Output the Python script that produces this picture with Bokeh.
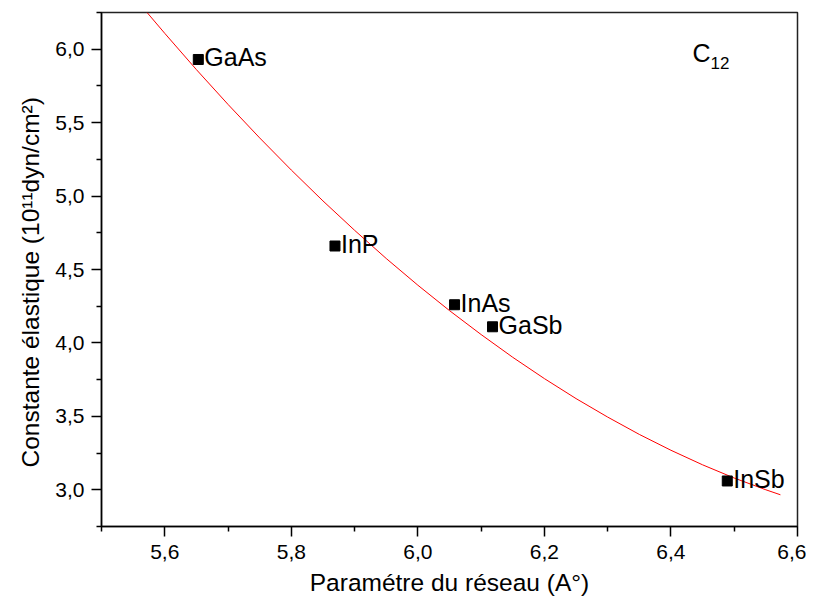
from bokeh.plotting import figure
from bokeh.models import Range1d, FixedTicker, CustomJSTickFormatter, ColumnDataSource, Title
from bokeh.core.properties import value
from bokeh.embed import file_html
from bokeh.resources import INLINE

# ---- data ----
compounds = ["GaAs", "InP", "InAs", "GaSb", "InSb"]
lattice_a = [5.653, 5.869, 6.058, 6.118, 6.489]
c12_vals = [5.93, 4.66, 4.26, 4.11, 3.06]

# red fit curve
curve_x = [5.572, 5.60, 5.65, 5.70, 5.75, 5.80, 5.85, 5.90, 5.95, 6.00, 6.05,
           6.10, 6.15, 6.20, 6.25, 6.30, 6.35, 6.40, 6.45, 6.50, 6.55, 6.573]
curve_y = [6.250, 6.108, 5.861, 5.624, 5.396, 5.177, 4.967, 4.767, 4.575, 4.393, 4.220,
           4.057, 3.902, 3.757, 3.621, 3.495, 3.377, 3.269, 3.170, 3.080, 3.000, 2.966]

x_major = [5.6, 5.8, 6.0, 6.2, 6.4, 6.6]
x_minor = [5.5, 5.7, 5.9, 6.1, 6.3, 6.5]
y_major = [3.0, 3.5, 4.0, 4.5, 5.0, 5.5, 6.0]
y_minor = [2.75, 3.25, 3.75, 4.25, 4.75, 5.25, 5.75, 6.25]

x_title = "Paramétre du réseau (A°)"
y_title = "Constante élastique (10¹¹dyn/cm²)"
panel_main = "C"
panel_sub = "12"
panel_x = 6.434
panel_y = 5.905

FONT = "Liberation Sans"

p = figure(frame_width=696, frame_height=514, output_backend="svg", toolbar_location=None,
           x_range=Range1d(5.5, 6.6), y_range=Range1d(2.75, 6.25),
           min_border_left=101, min_border_right=9, min_border_top=12, min_border_bottom=70)

p.background_fill_color = "white"
p.border_fill_color = "white"
p.outline_line_color = "#222222"
p.outline_line_width = 1.5
p.xgrid.visible = False
p.ygrid.visible = False

fmt = CustomJSTickFormatter(code="return tick.toFixed(1).replace('.', ',');")
p.xaxis.ticker = FixedTicker(ticks=x_major, minor_ticks=x_minor)
p.yaxis.ticker = FixedTicker(ticks=y_major, minor_ticks=y_minor)
for ax in (p.xaxis, p.yaxis):
    ax.formatter = fmt
    ax.axis_line_color = "black"
    ax.axis_line_width = 1.5
    ax.major_tick_line_color = "black"
    ax.major_tick_line_width = 1.5
    ax.minor_tick_line_color = "black"
    ax.minor_tick_line_width = 1.5
    ax.major_tick_out = 10
    ax.major_tick_in = 0
    ax.minor_tick_out = 5
    ax.minor_tick_in = 0
    ax.major_label_text_font = FONT
    ax.major_label_text_font_size = "21px"
    ax.major_label_text_color = "black"
    ax.axis_label_text_font = FONT
    ax.axis_label_text_font_size = "24.5px"
    ax.axis_label_text_font_style = "normal"
    ax.axis_label_text_color = "black"

p.xaxis.axis_label = x_title
p.xaxis.major_label_standoff = 8
p.yaxis.major_label_standoff = 7
p.xaxis.axis_label_standoff = 7

# y-axis title as a side title (starts a little above the bottom of the frame)
p.add_layout(Title(text=y_title, align="left", offset=59, standoff=18,
                   text_font=FONT, text_font_size="24.5px", text_font_style="normal",
                   text_color="black"), "left")

src = ColumnDataSource(dict(x=lattice_a, y=c12_vals, name=compounds))

p.line(curve_x, curve_y, line_color="red", line_width=1)
p.scatter("x", "y", source=src, marker="square", size=10, fill_color="black", line_color="black")
p.text("x", "y", text="name", source=src, x_offset=6, y_offset=-2,
       text_font=value(FONT), text_font_size="25px", text_baseline="alphabetic",
       text_align="left", text_color="black")

p.text(x=[panel_x], y=[panel_y], text=[panel_main], y_offset=-10, text_font=value(FONT),
       text_font_size="25px", text_baseline="alphabetic", text_align="left", text_color="black")
p.text(x=[panel_x], y=[panel_y], text=[panel_sub], x_offset=18, y_offset=0, text_font=value(FONT),
       text_font_size="17px", text_baseline="alphabetic", text_align="left", text_color="black")

open("out.html", "w").write(file_html(p, INLINE))
